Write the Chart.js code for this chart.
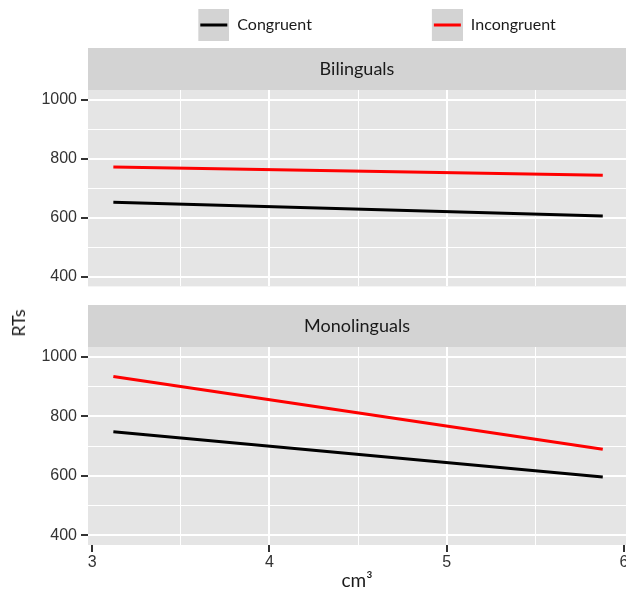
<!DOCTYPE html>
<html>
<head>
<meta charset="utf-8">
<script src="https://cdn.jsdelivr.net/npm/chart.js@4.4.1/dist/chart.umd.min.js"></script>
<style>
  html, body { margin: 0; padding: 0; background: #fff; overflow: hidden; }
  body { width: 626px; height: 591px; position: relative; }
  .facet { position: absolute; left: 0; width: 680px; }
  #topFacet { top: 0; height: 300px; }
  #bottomFacet { top: 300px; height: 291px; }
  #yTitle {
    position: absolute; left: 18px; top: 323px;
    transform: translate(-50%, -50%) rotate(-90deg);
    font: 18px Lato, sans-serif; color: #1a1a1a; white-space: nowrap;
  }
</style>
</head>
<body>
<div class="facet" id="topFacet"><canvas id="bilingualChart"></canvas></div>
<div class="facet" id="bottomFacet"><canvas id="monolingualChart"></canvas></div>
<div id="yTitle">RTs</div>
<script>
// fitted lines (x = brain volume in cm³, y = RT in ms)
const volume = [3.12, 5.88];
const seriesNames = ['Congruent', 'Incongruent'];
const seriesColors = ['#000000', '#ff0000'];
const bilingualCongruent = [652, 606];
const bilingualIncongruent = [772, 744];
const monolingualCongruent = [748, 596];
const monolingualIncongruent = [934, 689];

const yGridValues = [400, 500, 600, 700, 800, 900, 1000];
const yLabelValues = [400, 600, 800, 1000];
const xGridValues = [3, 3.5, 4, 4.5, 5, 5.5, 6];
const xLabelValues = [3, 4, 5, 6];

const panelFill = '#e5e5e5';
const stripFill = '#d3d3d3';
const stripHeight = 42;
const inkColor = '#1a1a1a';
const tickInk = '#333333';
const clear = 'rgba(0,0,0,0)';

// legend key: grey square at the right end of a wide transparent box,
// the empty part gives the gap between the two legend entries
const keyBoxWidth = 151;

function toPoints(values) {
  return volume.map((x, i) => ({x: x, y: values[i]}));
}

function legendKey(color) {
  const c = document.createElement('canvas');
  c.width = keyBoxWidth;
  c.height = 32;
  const g = c.getContext('2d');
  g.fillStyle = stripFill;
  g.fillRect(keyBoxWidth - 31, 0, 31, 32);
  g.strokeStyle = color;
  g.lineWidth = 3;
  g.beginPath();
  g.moveTo(keyBoxWidth - 29, 16);
  g.lineTo(keyBoxWidth - 2, 16);
  g.stroke();
  return c;
}
const keyImages = seriesColors.map(legendKey);

function makeDatasets(congruent, incongruent) {
  return [congruent, incongruent].map((vals, i) => ({
    label: seriesNames[i],
    data: toPoints(vals),
    borderColor: seriesColors[i],
    backgroundColor: seriesColors[i],
    borderWidth: 3,
    pointRadius: 0,
    pointHoverRadius: 0,
    pointStyle: keyImages[i],
    fill: false,
    tension: 0
  }));
}

// grey panel + facet strip behind everything
const facetBackground = {
  id: 'facetBackground',
  beforeDraw(chart) {
    const ca = chart.chartArea;
    const ctx = chart.ctx;
    ctx.save();
    ctx.fillStyle = stripFill;
    ctx.fillRect(ca.left, ca.top - stripHeight, ca.right - ca.left, stripHeight);
    ctx.fillStyle = panelFill;
    ctx.fillRect(ca.left, ca.top, ca.right - ca.left, ca.bottom - ca.top);
    ctx.restore();
  }
};

const isMajorY = v => yLabelValues.includes(v);
const isMajorX = v => xLabelValues.includes(v);
const tickValue = ctx => (ctx.tick ? ctx.tick.value : NaN);

function yScale() {
  return {
    min: 367,
    max: 1033,
    afterBuildTicks: s => { s.ticks = yGridValues.map(v => ({value: v})); },
    afterFit: s => { s.width = 80; },
    border: {display: false},
    grid: {
      color: '#ffffff',
      lineWidth: ctx => isMajorY(tickValue(ctx)) ? 2 : 1,
      tickColor: ctx => isMajorY(tickValue(ctx)) ? tickInk : clear,
      tickWidth: 2,
      tickLength: 7
    },
    ticks: {
      autoSkip: false,
      color: tickInk,
      padding: 4,
      font: {family: 'Liberation Sans', size: 16},
      callback: v => isMajorY(v) ? String(v) : ''
    }
  };
}

function xScale(showAxis) {
  return {
    type: 'linear',
    min: 2.977,
    max: 6.011,
    afterBuildTicks: s => { s.ticks = xGridValues.map(v => ({value: v})); },
    border: {display: false},
    grid: {
      color: ctx => {
        const v = tickValue(ctx);
        return (v <= 3 || v >= 6) ? clear : '#ffffff';
      },
      lineWidth: ctx => isMajorX(tickValue(ctx)) ? 2 : 1,
      drawTicks: showAxis,
      tickColor: ctx => isMajorX(tickValue(ctx)) ? tickInk : clear,
      tickWidth: 2,
      tickLength: 7
    },
    ticks: {
      display: showAxis,
      autoSkip: false,
      maxRotation: 0,
      padding: 3,
      color: tickInk,
      font: {family: 'Liberation Sans', size: 16, lineHeight: 1},
      callback: v => isMajorX(v) ? String(v) : ''
    },
    title: {
      display: showAxis,
      text: 'cm³',
      color: inkColor,
      font: {family: 'Lato', size: 19, lineHeight: 1},
      padding: {top: -3, bottom: 0}
    }
  };
}

var bilingualChart = new Chart(document.getElementById('bilingualChart'), {
  type: 'line',
  data: {datasets: makeDatasets(bilingualCongruent, bilingualIncongruent)},
  options: {
    responsive: true,
    maintainAspectRatio: false,
    animation: false,
    events: [],
    layout: {padding: {top: 9, left: 8, right: 54, bottom: 8}},
    scales: {x: xScale(false), y: yScale()},
    plugins: {
      legend: {
        display: true,
        position: 'top',
        // empty title only reserves room so the tall keys are not clipped
        title: {display: true, text: '', font: {size: 8, lineHeight: 1}, padding: 0},
        labels: {
          usePointStyle: true,
          pointStyleWidth: keyBoxWidth,
          padding: 0,
          color: inkColor,
          font: {family: 'Lato', size: 16}
        }
      },
      title: {
        display: true,
        text: 'Bilinguals',
        fullSize: false,
        weight: 100,
        color: inkColor,
        font: {family: 'Lato', size: 18, weight: 'normal', lineHeight: 1.2},
        padding: {top: 15, bottom: 10.4}
      },
      tooltip: {enabled: false}
    }
  },
  plugins: [facetBackground]
});

var monolingualChart = new Chart(document.getElementById('monolingualChart'), {
  type: 'line',
  data: {datasets: makeDatasets(monolingualCongruent, monolingualIncongruent)},
  options: {
    responsive: true,
    maintainAspectRatio: false,
    animation: false,
    events: [],
    layout: {padding: {top: 5, left: 8, right: 54, bottom: 1}},
    scales: {x: xScale(true), y: yScale()},
    plugins: {
      legend: {display: false},
      title: {
        display: true,
        text: 'Monolinguals',
        fullSize: false,
        color: inkColor,
        font: {family: 'Lato', size: 18, weight: 'normal', lineHeight: 1.2},
        padding: {top: 10, bottom: 10.4}
      },
      tooltip: {enabled: false}
    }
  },
  plugins: [facetBackground]
});
</script>
</body>
</html>
